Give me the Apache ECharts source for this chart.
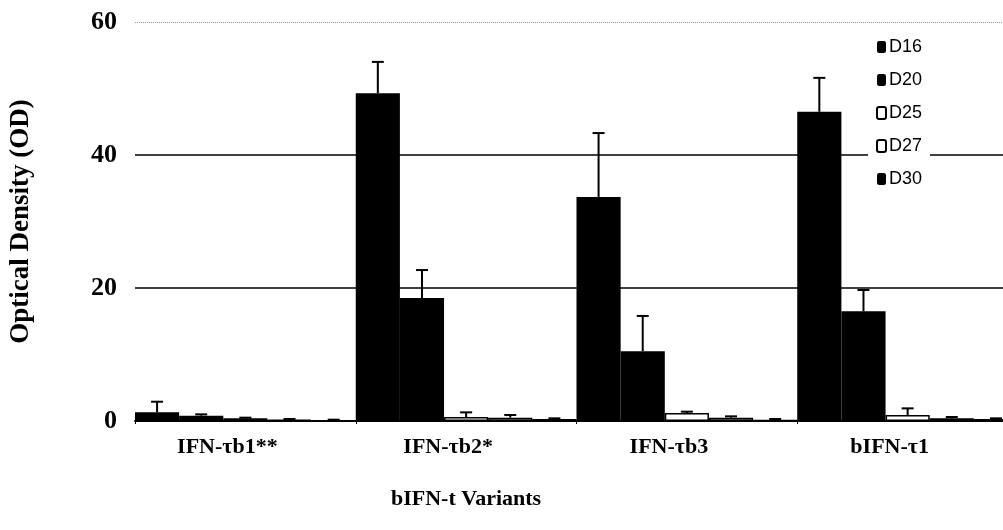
<!DOCTYPE html>
<html>
<head>
<meta charset="utf-8">
<script src="https://cdn.jsdelivr.net/npm/echarts@6/dist/echarts.min.js"></script>
<style>
  html, body { margin: 0; padding: 0; background: #fff; overflow: hidden; }
  /* the original plot runs past the right edge of the picture */
  #chart { width: 1018px; height: 530px; }
</style>
</head>
<body>
<div id="chart"></div>
<script>
// data
var categories = ['IFN-\u03C4b1**', 'IFN-\u03C4b2*', 'IFN-\u03C4b3', 'bIFN-\u03C41'];
var seriesNames = ['D16', 'D20', 'D25', 'D27', 'D30'];
var d16 = [1.3, 49.3, 33.7, 46.5];
var d20 = [0.8, 18.5, 10.5, 16.5];
var d25 = [0.4, 0.6, 1.2, 0.9];
var d27 = [0.2, 0.5, 0.5, 0.4];
var d30 = [0.1, 0.3, 0.2, 0.3];
// top of the error bar (mean + sd)
var d16Err = [2.9, 54.0, 43.3, 51.6];
var d20Err = [1.0, 22.7, 15.8, 19.7];
var d25Err = [0.5, 1.3, 1.4, 1.9];
var d27Err = [0.3, 0.9, 0.7, 0.6];
var d30Err = [0.2, 0.4, 0.3, 0.4];
var yTicks = [0, 20, 40, 60];

var values = [d16, d20, d25, d27, d30];
var errTops = [d16Err, d20Err, d25Err, d27Err, d30Err];
var fills = ['#000', '#000', '#fff', '#fff', '#000'];

var serif = '"Liberation Serif", "DejaVu Serif", serif';

var errData = [];
errTops.forEach(function (arr, s) {
  arr.forEach(function (top, c) {
    errData.push([c, values[s][c], top, s]);
  });
});

var chart = echarts.init(document.getElementById('chart'));

var series = seriesNames.map(function (name, i) {
  return {
    name: name,
    type: 'bar',
    barGap: '0%',
    barCategoryGap: '0%',
    data: values[i],
    itemStyle: { color: fills[i], borderColor: '#000', borderWidth: fills[i] === '#fff' ? 1.5 : 0 },
    emphasis: { disabled: true }
  };
});

series.push({
  type: 'custom',
  name: 'err',
  data: errData,
  z: 5,
  renderItem: function (params, api) {
    var c = api.value(0);
    var s = api.value(3);
    var bw = api.size([1, 0])[0] / 5;
    var x = api.coord([c, 0])[0] + (s - 2) * bw;
    var y0 = api.coord([c, api.value(1)])[1];
    var y1 = api.coord([c, api.value(2)])[1];
    var st = { stroke: '#000', lineWidth: 2 };
    return {
      type: 'group',
      children: [
        { type: 'line', shape: { x1: x, y1: y0, x2: x, y2: y1 }, style: st },
        { type: 'line', shape: { x1: x - 6, y1: y1, x2: x + 6, y2: y1 }, style: st }
      ]
    };
  },
  markLine: {
    silent: true,
    symbol: 'none',
    label: { show: false },
    lineStyle: { color: '#999', type: 'dotted', width: 1 },
    data: [{ yAxis: yTicks[3] }]
  }
});

chart.setOption({
  animation: false,
  backgroundColor: '#fff',
  grid: { left: 134, right: 0, top: 22, bottom: 109 },
  legend: {
    data: seriesNames,
    orient: 'vertical',
    left: 868,
    top: 38,
    padding: [0, 8, 0, 8],
    backgroundColor: '#fff',
    itemGap: 15,
    itemWidth: 9,
    itemHeight: 12,
    icon: 'roundRect',
    textStyle: { fontFamily: '"Liberation Sans", Arial, sans-serif', fontSize: 18, color: '#000', padding: [0, 0, 0, -2] }
  },
  xAxis: {
    type: 'category',
    data: categories,
    axisLine: { lineStyle: { color: '#000', width: 2 } },
    axisTick: { show: true, length: 3, lineStyle: { color: '#000' } },
    axisLabel: {
      color: '#000',
      fontFamily: serif,
      fontWeight: 'bold',
      fontSize: 22,
      margin: 15,
      padding: [0, 36, 0, 0]
    }
  },
  yAxis: {
    type: 'value',
    min: 0,
    max: 60,
    interval: 20,
    name: 'Optical Density (OD)',
    nameLocation: 'middle',
    nameRotate: 90,
    nameGap: 100,
    nameTextStyle: { color: '#000', fontFamily: serif, fontWeight: 'bold', fontSize: 27 },
    axisLine: { show: false },
    axisTick: { show: false },
    axisLabel: { color: '#000', fontFamily: serif, fontWeight: 'bold', fontSize: 26, margin: 18 },
    splitLine: { lineStyle: { color: ['#000', '#000', '#000', 'rgba(0,0,0,0)'], width: 1.5 } }
  },
  graphic: [{
    type: 'text',
    left: 391,
    top: 488,
    style: { text: 'bIFN-t Variants', fill: '#000', font: 'bold 22px ' + serif }
  }],
  series: series
});
</script>
</body>
</html>
